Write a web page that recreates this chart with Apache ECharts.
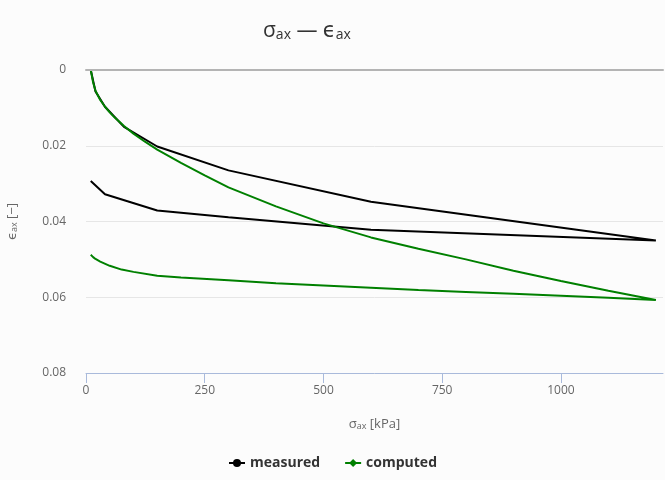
<!DOCTYPE html>
<html>
<head>
<meta charset="utf-8">
<script src="https://cdn.jsdelivr.net/npm/echarts@6/dist/echarts.min.js"></script>
<style>
  html, body { margin: 0; padding: 0; background: #fcfcfc; }
  #main { width: 665px; height: 480px; }
</style>
</head>
<body>
<div id="main"></div>
<script>
// measured loop (loading, then unloading)
var measuredX = [10, 20, 40, 80, 150, 300, 600, 1200, 600, 300, 150, 40, 10];
var measuredY = [0, 0.0057, 0.0097, 0.0150, 0.0202, 0.0265, 0.0348, 0.0450,
                 0.0422, 0.0389, 0.0371, 0.0328, 0.0293];

// computed loop
var computedX = [10, 15, 20, 30, 40, 50, 60, 80, 100, 125, 150, 200, 250, 300, 400, 500, 600, 700, 800, 900, 1000, 1100, 1200,
                 1100, 1000, 900, 800, 700, 600, 500, 400, 300, 200, 150, 100, 75, 50, 30, 20, 15, 10];
var computedY = [0, 0.0033, 0.0055, 0.0079, 0.0097, 0.0112, 0.0125, 0.0148, 0.0168, 0.0190, 0.0210, 0.0245, 0.0278, 0.0310,
                 0.0360, 0.0405, 0.0442, 0.0472, 0.0500, 0.0530, 0.0557, 0.0583, 0.0607,
                 0.0601, 0.0596, 0.0591, 0.0586, 0.0581, 0.0575, 0.0569, 0.0563, 0.0555, 0.0548, 0.0543,
                 0.0533, 0.0527, 0.0517, 0.0506, 0.0499, 0.0494, 0.0488];

var xTicks = [0, 250, 500, 750, 1000];
var yTicks = [0, 0.02, 0.04, 0.06, 0.08];

function pairs(xs, ys) {
  return xs.map(function (x, i) { return [x, ys[i]]; });
}

var font = '"Open Sans", "DejaVu Sans", sans-serif';
var myChart = echarts.init(document.getElementById('main'));

var option = {
  backgroundColor: '#fcfcfc',
  animation: false,
  title: {
    text: '{m|σ}{sub|ax}{m| — ϵ}{sub|ax}',
    left: 258,
    top: 15,
    textStyle: {
      fontWeight: 'normal',
      rich: {
        m: { fontSize: 21, color: '#333', fontFamily: font, fontWeight: 'normal' },
        sub: { fontSize: 14, color: '#333', fontFamily: font, fontWeight: 'normal', padding: [8, 0, 0, 0] }
      }
    }
  },
  legend: {
    bottom: 5,
    left: 'center',
    itemGap: 24,
    itemWidth: 16,
    itemHeight: 10,
    textStyle: { fontFamily: font, fontWeight: 'bold', fontSize: 14, color: '#333' },
    data: ['measured', 'computed']
  },
  grid: { left: 86, right: 2, top: 70, bottom: 107, containLabel: false, outerBoundsMode: 'none' },
  xAxis: [{
    type: 'value',
    position: 'bottom',
    z: 5,
    min: 0,
    max: 1215,
    interval: 250,
    name: '{m|σ}{sub|ax}{m| [kPa]}',
    nameLocation: 'middle',
    nameGap: 44,
    nameTextStyle: {
      rich: {
        m: { fontSize: 13, color: '#666', fontFamily: font },
        sub: { fontSize: 9, color: '#666', fontFamily: font, padding: [5, 0, 0, 0] }
      }
    },
    axisLine: { show: true, onZero: false, lineStyle: { color: '#a9badb', width: 1 } },
    axisTick: { show: true, inside: false, length: 10, lineStyle: { color: '#a9badb', width: 1 } },
    axisLabel: {
      color: '#666', fontSize: 12, fontFamily: font, margin: 12, showMaxLabel: false,
      formatter: function (v) { return xTicks.indexOf(v) >= 0 ? String(v) : ''; }
    },
    splitLine: { show: false }
  }, {
    type: 'value',
    position: 'top',
    z: 5,
    min: 0,
    max: 1215,
    axisLine: { show: true, onZero: false, lineStyle: { color: '#b4b4b4', width: 2 } },
    axisTick: { show: false },
    axisLabel: { show: false },
    splitLine: { show: false }
  }],
  yAxis: {
    type: 'value',
    inverse: true,
    min: 0,
    max: 0.08,
    interval: 0.02,
    name: '{m|ϵ}{sub|ax}{m| [−]}',
    nameLocation: 'middle',
    nameRotate: 90,
    nameGap: 67,
    nameTextStyle: {
      rich: {
        m: { fontSize: 13, color: '#666', fontFamily: font },
        sub: { fontSize: 9, color: '#666', fontFamily: font, padding: [5, 0, 0, 0] }
      }
    },
    axisLine: { show: false },
    axisTick: { show: false },
    axisLabel: {
      color: '#666', fontSize: 12, fontFamily: font, margin: 20,
      formatter: function (v) { return yTicks.indexOf(+v.toFixed(2)) >= 0 ? String(+v.toFixed(2)) : ''; }
    },
    splitLine: { show: true, lineStyle: { color: '#e6e6e6', width: 1 } }
  },
  series: [
    {
      name: 'measured',
      type: 'line',
      data: pairs(measuredX, measuredY),
      symbol: 'circle',
      symbolSize: 8,
      showSymbol: false,
      itemStyle: { color: '#000' },
      lineStyle: { color: '#000', width: 2 }
    },
    {
      name: 'computed',
      type: 'line',
      data: pairs(computedX, computedY),
      symbol: 'diamond',
      symbolSize: 9,
      showSymbol: false,
      itemStyle: { color: '#008000' },
      lineStyle: { color: '#008000', width: 2 }
    }
  ]
};

myChart.setOption(option);
</script>
</body>
</html>
